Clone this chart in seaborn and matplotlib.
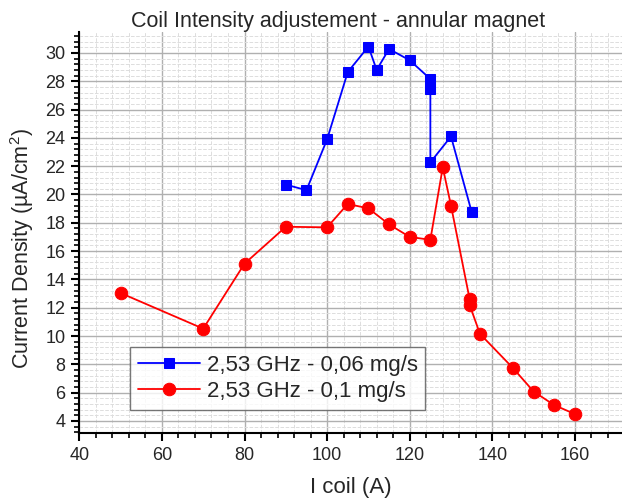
import matplotlib
matplotlib.use("Agg")
import matplotlib.pyplot as plt
from matplotlib.ticker import MultipleLocator
import seaborn as sns
import pandas as pd

blue_x = [90, 95, 100, 105, 110, 112, 115, 120, 125, 125, 125, 130, 135]
blue_y = [20.7, 20.3, 23.9, 28.65, 30.45, 28.8, 30.28, 29.48, 28.16, 27.46, 22.27, 24.1, 18.76]
red_x = [50, 70, 80, 90, 100, 105, 110, 115, 120, 125, 128, 130, 134.5, 134.5, 137, 145, 150, 155, 160]
red_y = [13.04, 10.52, 15.11, 17.72, 17.68, 19.33, 19.02, 17.89, 17.0, 16.8, 21.92, 19.21,
         12.62, 12.21, 10.16, 7.74, 6.08, 5.12, 4.49]
labels = ["2,53 GHz - 0,06 mg/s", "2,53 GHz - 0,1 mg/s"]
title = "Coil Intensity adjustement - annular magnet"
xlabel = "I coil (A)"
ylabel = "Current Density (µA/cm$^2$)"

sns.set_style("white")
plt.rcParams['font.family'] = ['Liberation Sans', 'DejaVu Sans']
plt.rcParams['mathtext.fontset'] = 'custom'
plt.rcParams['mathtext.rm'] = 'Liberation Sans'

df_b = pd.DataFrame({"x": blue_x, "y": blue_y})
df_r = pd.DataFrame({"x": red_x, "y": red_y})

W, H = 622, 498
L, R, T, B = 79.3, 622, 31.7, 433.3
fig = plt.figure(figsize=(W / 100, H / 100), dpi=100)
ax = fig.add_axes([L / W, 1 - B / H, (R - L) / W, (B - T) / H])

sns.lineplot(data=df_b, x="x", y="y", ax=ax, sort=False, estimator=None,
             color="#0000ff", marker="s", markersize=7.5, markeredgecolor="#0000ff",
             linewidth=1.3, label=labels[0])
sns.lineplot(data=df_r, x="x", y="y", ax=ax, sort=False, estimator=None,
             color="#ff0000", marker="o", markersize=9, markeredgecolor="#ff0000",
             linewidth=1.3, label=labels[1])

ax.set_xlim(40, 171.4)
ax.set_ylim(3.13, 31.5)
ax.xaxis.set_major_locator(MultipleLocator(20))
ax.xaxis.set_minor_locator(MultipleLocator(4))
ax.yaxis.set_major_locator(MultipleLocator(2))
ax.yaxis.set_minor_locator(MultipleLocator(0.4))
ax.grid(which="major", color="#b0b0b0", linewidth=1.0, linestyle="-")
ax.grid(which="minor", color="#dddddd", linewidth=0.7, linestyle="--")
ax.set_axisbelow(True)
for s in ["top", "right"]:
    ax.spines[s].set_visible(False)
for s in ["left", "bottom"]:
    ax.spines[s].set_color("black")
    ax.spines[s].set_linewidth(1.5)
ax.tick_params(which="major", direction="out", length=6, width=1.5, labelsize=13,
               color="black", left=True, bottom=True, pad=4)
ax.tick_params(which="minor", direction="out", length=3.5, width=1.2, color="black",
               left=True, bottom=True)

ax.set_xlabel("")
ax.set_ylabel("")
fig.text(338 / W, 1 - 22 / H, title, fontsize=15.5, ha="center", va="center")
fig.text(351 / W, 1 - 487 / H, xlabel, fontsize=16, ha="center", va="center")
fig.text(22 / W, 1 - 249 / H, ylabel, fontsize=15.5, ha="center", va="center", rotation=90)

leg = ax.legend(loc="lower left", bbox_to_anchor=((130 - L) / (R - L), (B - 410) / (B - T)),
                fontsize=16, frameon=True, fancybox=False, edgecolor="#555555",
                handlelength=2.8, borderpad=0.35, labelspacing=0.25, handletextpad=0.3,
                borderaxespad=0)
leg.get_frame().set_linewidth(1.0)

fig.savefig("out.png", dpi=100)
